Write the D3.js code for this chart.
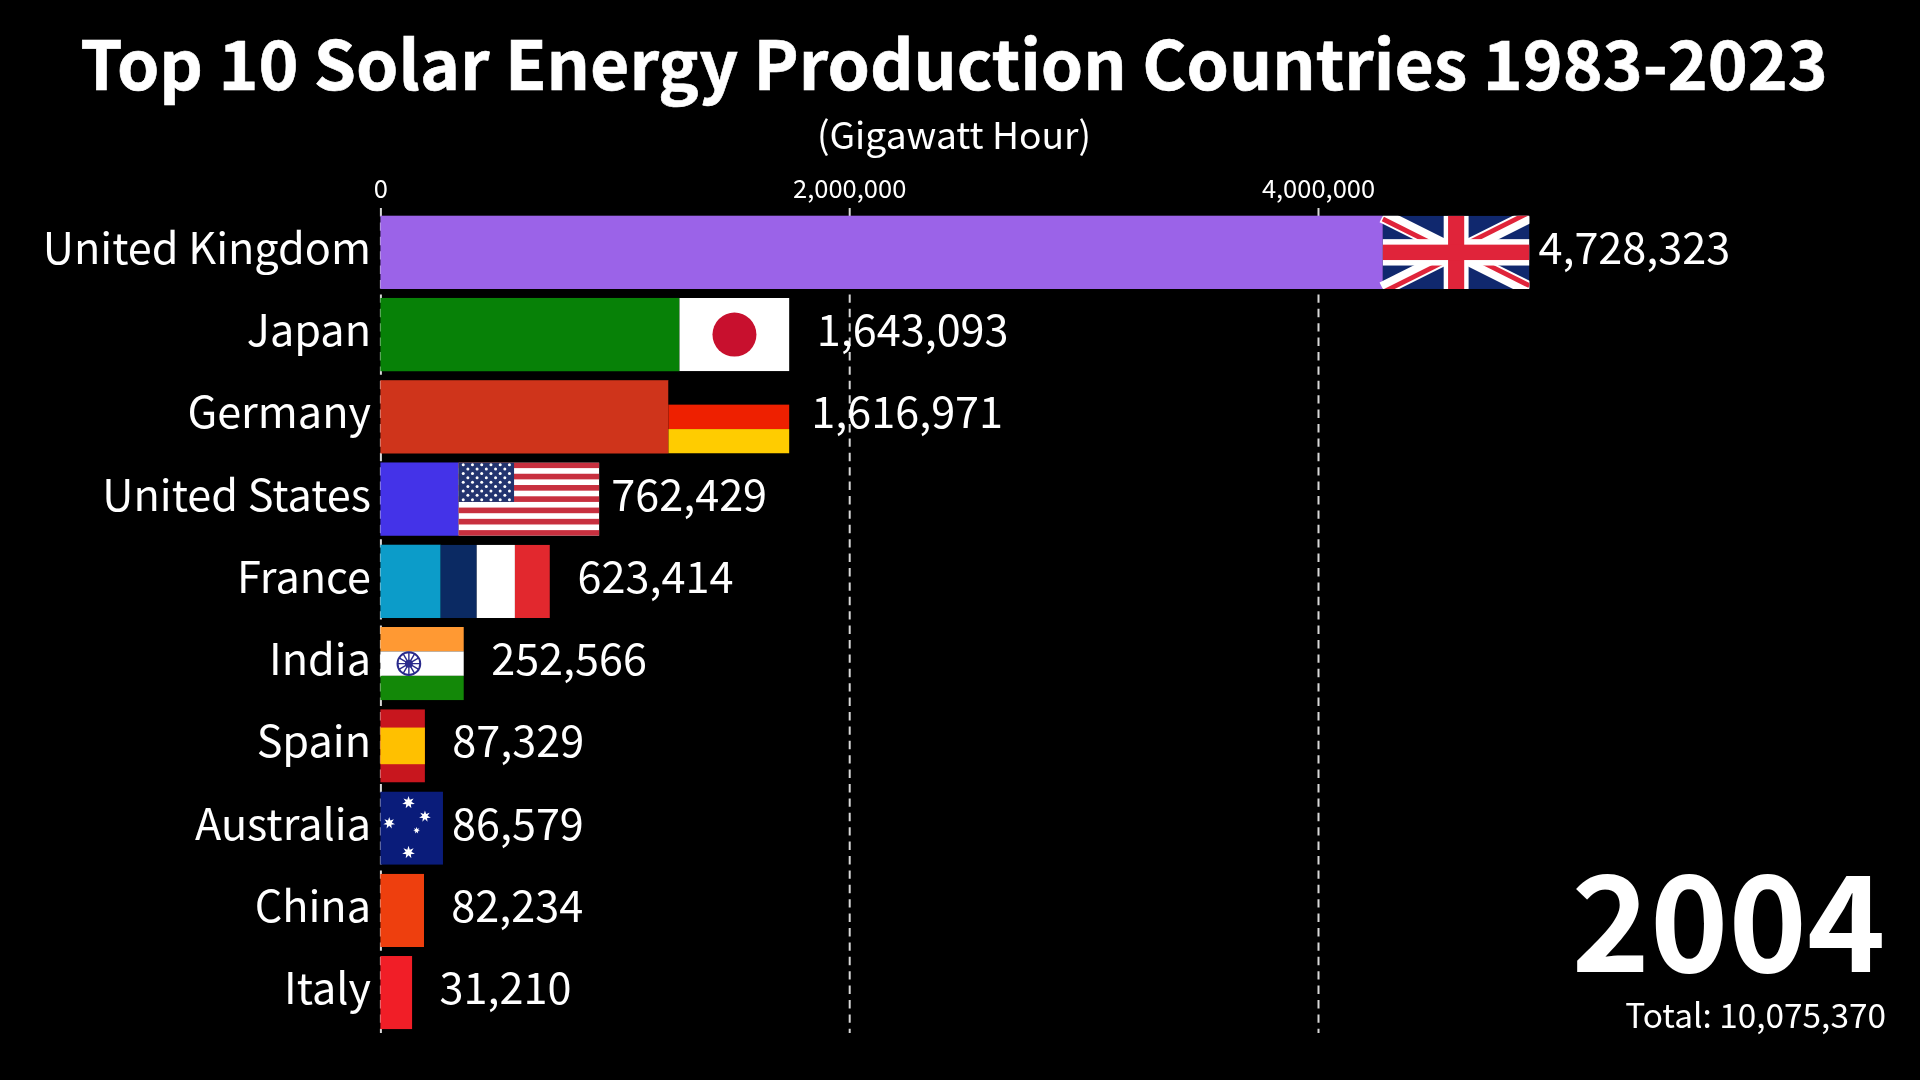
<!DOCTYPE html>
<html><head><meta charset="utf-8">
<script src="https://cdn.jsdelivr.net/npm/d3@7/dist/d3.min.js"></script>
<style>html,body{margin:0;background:#000;overflow:hidden}svg{display:block;filter:blur(.45px)}text{font-family:"Noto Sans CJK JP","Noto Sans",sans-serif;fill:#fff}</style>
</head><body><svg id="c" width="1920" height="1080"></svg>
<script>
const countries=["United Kingdom","Japan","Germany","United States","France","India","Spain","Australia","China","Italy"];
const labelValues=[4728323,1643093,1616971,762429,623414,252566,87329,86579,82234,31210];
// bar lengths as drawn in this mid-animation frame, read against the axis
const barValues=[4902000,1745000,1745000,934000,723000,356000,190000,267000,186000,136000];
const barColors=["#9B63E8","#078107","#CF341B","#4433E8","#0C9CC9","#FF9933","#C8161E","#0A1C7A","#EE3F0E","#F11E27"];
const flagIds=["uk","jp","de","us","fr","in","es","au","cn","it"];
const flagRatios=[2,1.5,1.65,1.92,1.49,1.5,1.5,2,1.5,1.5];
const axisTicks=[0,2000000,4000000];
const year="2004", total=10075370;
const titleText="Top 10 Solar Energy Production Countries 1983-2023", subtitleText="(Gigawatt Hour)";

const svg=d3.select("#c");
svg.append("rect").attr("width",1920).attr("height",1080).attr("fill","#000");
const fmt=d3.format(",");
const x=d3.scaleLinear().domain([0,4000000]).range([380.4,1318]);
const y=d3.scaleBand().domain(countries).range([215.7,1029.3]).paddingInner(0.109);

svg.append("text").attr("x",954).attr("y",90).attr("text-anchor","middle").attr("font-size",67.8).attr("font-weight",700).attr("stroke","#fff").attr("stroke-width",.6).text(titleText);
svg.append("text").attr("x",954).attr("y",148.5).attr("text-anchor","middle").attr("font-size",37.2).text(subtitleText);

const axis=svg.append("g").attr("transform","translate(0,208)")
  .call(d3.axisTop(x).tickValues(axisTicks).tickFormat(fmt).tickSize(-825).tickPadding(9));
axis.select(".domain").remove();
axis.selectAll("line").attr("stroke","#d8d8d8").attr("stroke-width",2).attr("stroke-dasharray","8.4 6").attr("y1",0);
axis.selectAll("text").attr("font-size",25.5).attr("y",-10.5).attr("fill","#fff").style("font-family",'"Noto Sans CJK JP"');

// flag painters draw in pixels inside a w x h box
function band(g,x0,y0,w,h,c){g.append("rect").attr("x",x0).attr("y",y0).attr("width",w).attr("height",h).attr("fill",c);}
function star(g,cx,cy,r,n){
  const a=d3.range(n*2).map(i=>{const t=i*Math.PI/n-Math.PI/2,q=i%2?r*.45:r;return [cx+q*Math.cos(t),cy+q*Math.sin(t)];});
  g.append("polygon").attr("points",a.join(" ")).attr("fill","#fff");
}
const painters={
 uk(g,w,h){band(g,0,0,w,h,"#10286E");
   const l=(a,b,c,d,col,s)=>g.append("line").attr("x1",a).attr("y1",b).attr("x2",c).attr("y2",d).attr("stroke",col).attr("stroke-width",s);
   l(0,0,w,h,"#fff",h*.2);l(w,0,0,h,"#fff",h*.2);
   const o=h*.045,s=h*.065,R="#E0243A";
   l(0,o,w/2,h/2+o,R,s);l(w,-o,w/2,h/2-o,R,s);l(w,h-o,w/2,h/2-o,R,s);l(0,h+o,w/2,h/2+o,R,s);
   band(g,w*.415,0,w*.17,h,"#fff");band(g,0,h*.32,w,h*.36,"#fff");
   band(g,w*.445,0,w*.11,h,R);band(g,0,h*.395,w,h*.21,R);},
 jp(g,w,h){band(g,0,0,w,h,"#fff");g.append("circle").attr("cx",w/2).attr("cy",h/2).attr("r",h*.3).attr("fill","#C8102E");},
 de(g,w,h){band(g,0,0,w,h/3,"#000");band(g,0,h/3,w,h/3,"#EE2000");band(g,0,2*h/3,w,h/3,"#FFCC00");},
 us(g,w,h){band(g,0,0,w,h,"#fff");
   d3.range(7).forEach(i=>band(g,0,i*2*h/13,w,h/13,"#C8303F"));
   const cw=w*.394,ch=h*7/13;band(g,0,0,cw,ch,"#23346F");
   d3.range(9).forEach(r=>d3.range(r%2?5:6).forEach(c=>g.append("circle")
     .attr("cx",cw*((c+(r%2?1:.5))/6)).attr("cy",ch*((r+.5)/9)).attr("r",1.5).attr("fill","#fff")));},
 fr(g,w,h){band(g,0,0,w*.33,h,"#0B2A63");band(g,w*.33,0,w*.35,h,"#fff");band(g,w*.68,0,w*.32,h,"#E2282E");},
 in(g,w,h){band(g,0,0,w,h/3,"#FF9933");band(g,0,h/3,w,h/3,"#fff");band(g,0,2*h/3,w,h/3,"#138808");
   const c=g.append("g").attr("transform",`translate(${w/2},${h/2})`),r=h*.155,B="#2A2A8C";
   c.append("circle").attr("r",r).attr("fill","#fff").attr("stroke",B).attr("stroke-width",2);
   d3.range(12).forEach(i=>{const t=i*Math.PI/6;c.append("line").attr("x2",r*Math.cos(t)).attr("y2",r*Math.sin(t)).attr("stroke",B).attr("stroke-width",1.4);});
   c.append("circle").attr("r",r*.35).attr("fill",B);},
 es(g,w,h){band(g,0,0,w,h,"#C8161E");band(g,0,h/4,w,h/2,"#FFC000");},
 au(g,w,h){band(g,0,0,w,h,"#0A1C7A");
   [[.765,.15,6.5],[.877,.34,6],[.633,.43,6],[.82,.53,3.5],[.765,.83,6.5]].forEach(d=>star(g,w*d[0],h*d[1],d[2],7));},
 cn(g,w,h){band(g,0,0,w,h,"#EE3F0E");},
 it(g,w,h){band(g,0,0,w,h,"#F11E27");}
};

const defs=svg.append("defs");
const rows=countries.map((name,i)=>({name,label:labelValues[i],bar:barValues[i],color:barColors[i],flag:flagIds[i],ratio:flagRatios[i]}));
const h=y.bandwidth();
const row=svg.selectAll("g.row").data(rows).join("g").attr("class","row");
// the coloured part stops where the flag starts, so nothing shows through its black band
row.append("rect").attr("x",x(0)).attr("y",d=>y(d.name))
  .attr("width",d=>Math.max(0,x(d.bar)-x(0)-d.ratio*h)).attr("height",h).attr("fill",d=>d.color);
row.each(function(d,i){
  const end=x(d.bar),w=d.ratio*h,top=y(d.name);
  defs.append("clipPath").attr("id","clip"+i).append("rect").attr("x",x(0)).attr("y",top).attr("width",end-x(0)).attr("height",h);
  const g=d3.select(this).append("g").attr("clip-path",`url(#clip${i})`).append("g").attr("transform",`translate(${end-w},${top})`);
  painters[d.flag](g,w,h);
  d3.select(this).append("text").attr("x",end+9+(h*2-w)/2).attr("y",top+h/2+11.5).attr("font-size",43.2).text(fmt(d.label));
  d3.select(this).append("text").attr("x",371).attr("y",top+h/2+11.5).attr("text-anchor","end").attr("font-size",43.2).text(d.name);
});

svg.append("text").attr("x",1885.5).attr("y",972).attr("text-anchor","end").attr("font-size",133).attr("font-weight",700).text(year);
svg.append("text").attr("x",1886).attr("y",1027.5).attr("text-anchor","end").attr("font-size",33.4).text("Total: "+fmt(total));
</script></body></html>
